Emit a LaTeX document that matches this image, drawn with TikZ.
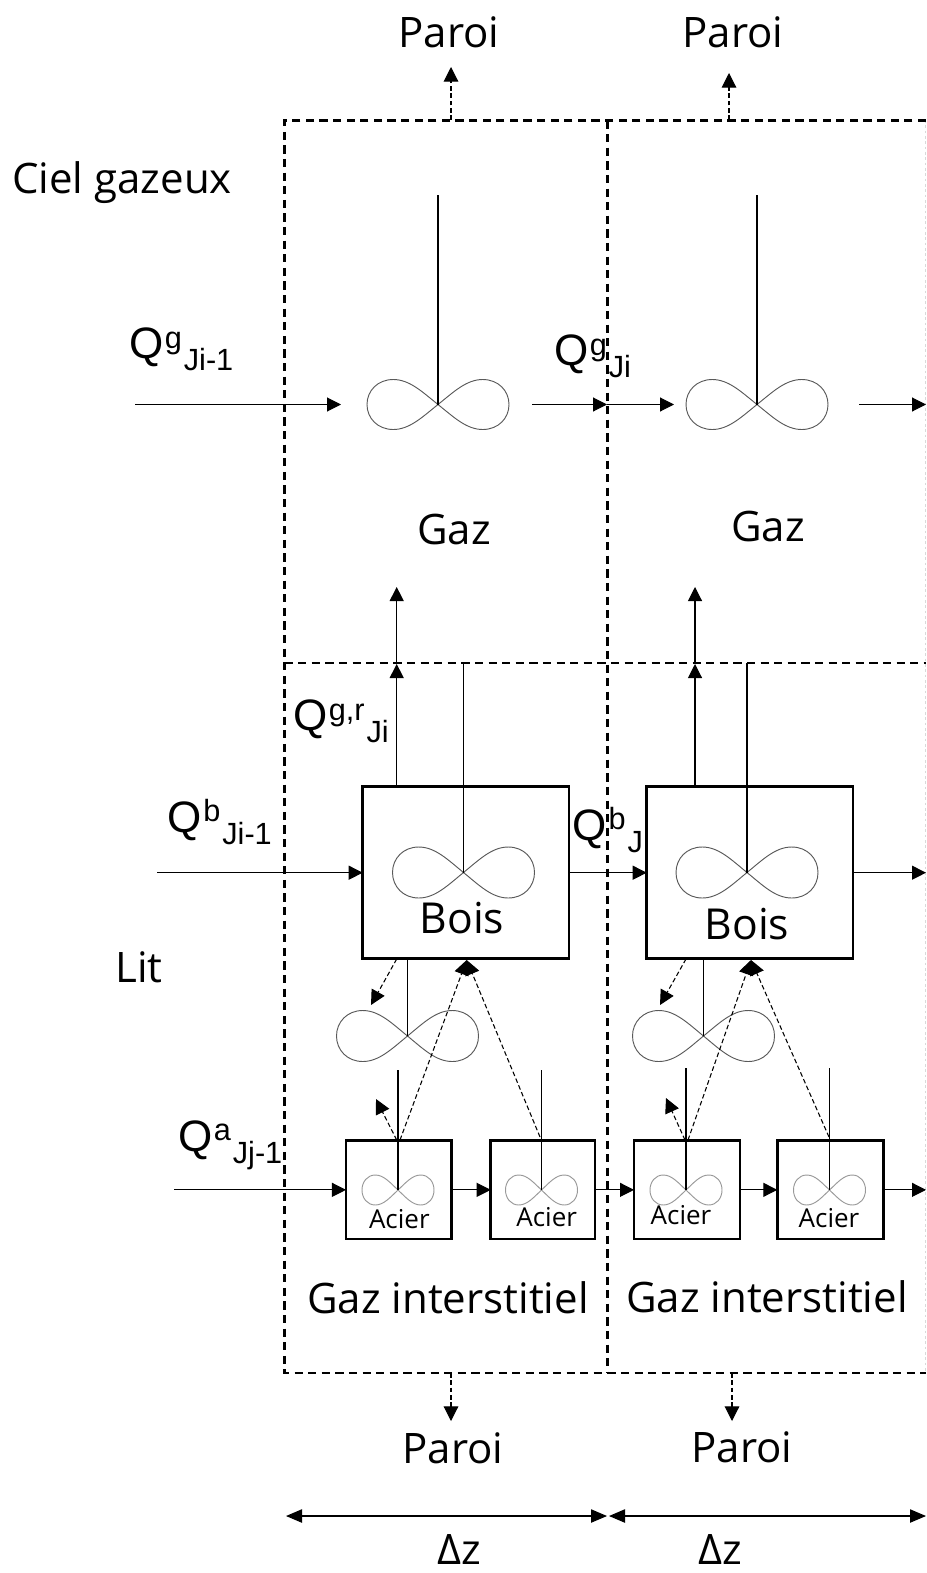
\documentclass[tikz,border=0pt]{standalone}
\usepackage{fontspec}
\setmainfont{Open Sans}
\newfontfamily\qfont{Liberation Sans}
\usetikzlibrary{arrows.meta}
\newcommand{\qlab}[6]{\node[anchor=base west,inner sep=0pt] (#1) at (#2,#3) {\qfont\fontsize{33}{36}\selectfont Q\hspace{1pt}\fontsize{23}{25}\selectfont\raisebox{#6pt}{#4}\hspace{1.5pt}\raisebox{-9pt}{#5}};}
\newcommand{\infloop}[5][black!65]{\draw[loopline,draw=#1,shift={(#2,#3)},xscale=#4,yscale=#5] (0,0) .. controls (0.22,-0.5) and (0.4,-1) .. (0.63,-1) .. controls (0.85,-1) and (1,-0.55) .. (1,0) .. controls (1,0.55) and (0.85,1) .. (0.63,1) .. controls (0.4,1) and (0.22,0.5) .. (0,0) .. controls (-0.22,-0.5) and (-0.4,-1) .. (-0.63,-1) .. controls (-0.85,-1) and (-1,-0.55) .. (-1,0) .. controls (-1,0.55) and (-0.85,1) .. (-0.63,1) .. controls (-0.4,1) and (-0.22,0.5) .. (0,0);}
\tikzset{
  bigdash/.style={line width=1.6pt,dash pattern=on 6.2pt off 4pt,black},
  flow/.style={line width=0.8pt,-{Triangle[length=10.5pt,width=10.5pt]}},
  stem/.style={line width=0.8pt},
  thindash/.style={line width=0.8pt,dash pattern=on 3.5pt off 2pt,-{Triangle[length=11pt,width=11pt]}},
  loopline/.style={line width=0.7pt},
  procbox/.style={draw,line width=1.9pt,fill=white,inner sep=0pt,outer sep=0pt},
  lab/.style={inner sep=0pt,font=\fontsize{31.5}{34}\selectfont},
  sml/.style={inner sep=0pt,font=\fontsize{19.5}{22}\selectfont},
  bois/.style={inner sep=0pt,font=\fontsize{32}{34}\selectfont},
}
\begin{document}
\begin{tikzpicture}[x=0.75pt,y=-0.75pt]
\useasboundingbox (0,0) rectangle (926,1573);
% dashed frames
\draw[line width=0.6pt,black!15,dash pattern=on 2pt off 2pt] (925,120) -- (925,1373);
\draw[bigdash] (926,120.5) -- (284.5,120.5) -- (284.5,1373) -- (926,1373);
\draw[bigdash] (284.5,663) -- (926,663);
\draw[bigdash] (607.5,120.5) -- (607.5,1373);
% boxes
\node[procbox,minimum width=154.7pt,minimum height=129pt] (b1) at (465.85,872.7) {};
\node[procbox,minimum width=154.7pt,minimum height=129pt] (b2) at (749.85,872.7) {};
\node[procbox,minimum width=79pt,minimum height=73.7pt] (a1) at (398.65,1189.85) {};
\node[procbox,minimum width=78.2pt,minimum height=73.7pt] (a2) at (542.85,1189.85) {};
\node[procbox,minimum width=79.5pt,minimum height=73.7pt] (a3) at (687,1189.85) {};
\node[procbox,minimum width=79.5pt,minimum height=73.7pt] (a4) at (830.3,1189.85) {};
% loops
\infloop{438}{404.5}{71}{25}
\infloop{757}{404.5}{71}{25}
\infloop{463.5}{872.5}{71}{25.5}
\infloop{747}{872.5}{71}{25.5}
\infloop{407.5}{1036}{71}{25.5}
\infloop{703.5}{1036}{71}{25.5}
\infloop[black!40]{398}{1190}{36}{15}
\infloop[black!40]{541.5}{1190}{36}{15}
\infloop[black!40]{686}{1190}{36}{15}
\infloop[black!40]{829.5}{1190}{36}{15}
% coordinates
\coordinate (g1) at (438,404.5); \coordinate (g1t) at (438,195);
\coordinate (g2) at (757,404.5); \coordinate (g2t) at (757,195);
\coordinate (lb1) at (463.5,872.5); \coordinate (lb1t) at (463.5,663);
\coordinate (lb2) at (747,872.5); \coordinate (lb2t) at (747,663);
\coordinate (lm1) at (407.5,1036); \coordinate (lm1b) at (407.5,959);
\coordinate (lm2) at (703.5,1036); \coordinate (lm2b) at (703.5,959);
\coordinate (s1) at (398,1190); \coordinate (s1t) at (398,1070);
\coordinate (s2) at (541.5,1190); \coordinate (s2t) at (541.5,1070);
\coordinate (s3) at (686,1190); \coordinate (s3t) at (686,1068);
\coordinate (s4) at (829.5,1190); \coordinate (s4t) at (829.5,1068);
% stems
\draw[stem] (g1t) -- (g1); \draw[stem] (g2t) -- (g2);
\draw[stem] (lb1t) -- (lb1); \draw[stem] (lb2t) -- (lb2);
\draw[stem] (lm1b) -- (lm1); \draw[stem] (lm2b) -- (lm2);
\draw[stem] (s1t) -- (s1); \draw[stem] (s2t) -- (s2);
\draw[stem] (s3t) -- (s3); \draw[stem] (s4t) -- (s4);
% gas arrows
\coordinate (ga0) at (135,404.5); \coordinate (ga1) at (341,404.5);
\coordinate (ga2) at (532,404.5); \coordinate (ga3) at (607,404.5);
\coordinate (ga4) at (674,404.5); \coordinate (ga5) at (859,404.5);
\coordinate (ga6) at (926,404.5);
\draw[flow] (ga0) -- (ga1); \draw[flow] (ga2) -- (ga3);
\draw[flow] (ga3) -- (ga4); \draw[flow] (ga5) -- (ga6);
% bois arrows
\coordinate (bi) at (157,872.7); \coordinate (bo) at (926,872.7);
\draw[flow] (bi) -- (b1); \draw[flow] (b1) -- (b2); \draw[flow] (b2) -- (bo);
% acier arrows
\coordinate (ai) at (174,1189.85); \coordinate (ao) at (926,1189.85);
\draw[flow] (ai) -- (a1); \draw[flow] (a1) -- (a2); \draw[flow] (a2) -- (a3);
\draw[flow] (a3) -- (a4); \draw[flow] (a4) -- (ao);
% up arrows
\coordinate (u1s) at (396.7,786.7); \coordinate (u1m) at (396.7,664); \coordinate (u1t) at (396.7,587);
\coordinate (u2s) at (695,786.7); \coordinate (u2m) at (695,664); \coordinate (u2t) at (695,587);
\draw[flow] (u1s) -- (u1m); \draw[flow] (u1m) -- (u1t);
\draw[flow] (u2s) -- (u2m); \draw[flow] (u2m) -- (u2t);
% dashed exchanges
\coordinate (d1a) at (396.7,959); \coordinate (d1b) at (371,1005);
\coordinate (d2a) at (396.7,1140); \coordinate (d2b) at (376,1099);
\coordinate (d3a) at (400,1140); \coordinate (d3b) at (466.7,960);
\coordinate (d4a) at (540,1137); \coordinate (d4b) at (466.7,960);
\coordinate (e1a) at (686,959); \coordinate (e1b) at (660,1005);
\coordinate (e2a) at (685,1140); \coordinate (e2b) at (666,1098);
\coordinate (e3a) at (688,1140); \coordinate (e3b) at (751,960);
\coordinate (e4a) at (829,1137); \coordinate (e4b) at (751,960);
\draw[thindash] (d1a) -- (d1b); \draw[thindash] (d2a) -- (d2b);
\draw[thindash] (d3a) -- (d3b); \draw[thindash] (d4a) -- (d4b);
\draw[thindash] (e1a) -- (e1b); \draw[thindash] (e2a) -- (e2b);
\draw[thindash] (e3a) -- (e3b); \draw[thindash] (e4a) -- (e4b);
% paroi
\node[lab] (p1) at (449,32) {Paroi};
\node[lab] (p2) at (733,32) {Paroi};
\node[lab] (p3) at (453,1448) {Paroi};
\node[lab] (p4) at (742,1447) {Paroi};
\coordinate (pa1) at (451,120); \coordinate (pa1t) at (451,67);
\coordinate (pa2) at (729,120); \coordinate (pa2t) at (729,73);
\coordinate (pa3) at (451,1373); \coordinate (pa3t) at (451,1421);
\coordinate (pa4) at (732,1373); \coordinate (pa4t) at (732,1421);
\draw[thindash] (pa1) -- (pa1t); \draw[thindash] (pa2) -- (pa2t);
\draw[thindash] (pa3) -- (pa3t); \draw[thindash] (pa4) -- (pa4t);
% delta z
\coordinate (dz0) at (286,1516); \coordinate (dz1) at (607,1516);
\coordinate (dz1b) at (609,1516); \coordinate (dz2) at (926,1516);
\draw[line width=0.8pt,{Triangle[length=12pt,width=10pt]}-{Triangle[length=12pt,width=10pt]}] (dz0) -- (dz1);
\draw[line width=0.8pt,{Triangle[length=12pt,width=10pt]}-{Triangle[length=12pt,width=10pt]}] (dz1b) -- (dz2);
\node[lab] (dzl1) at (459,1549) {Δz};
\node[lab] (dzl2) at (720,1549) {Δz};
% text
\node[lab,anchor=west] (ciel) at (12,183) {Ciel gazeux};
\node[lab,anchor=west] (lit) at (115,967) {Lit};
\node[lab] (gaz1) at (454,529) {Gaz};
\node[lab] (gaz2) at (768,526) {Gaz};
\node[lab] (gi1) at (448,1298) {Gaz interstitiel};
\node[lab] (gi2) at (767,1297) {Gaz interstitiel};
\node[bois] (tb1) at (462,918) {Bois};
\node[bois] (tb2) at (747,924) {Bois};
\node[sml] (ta1) at (399.3,1219) {Acier};
\node[sml] (ta2) at (546.7,1216.7) {Acier};
\node[sml] (ta3) at (681,1215) {Acier};
\node[sml] (ta4) at (829,1217.7) {Acier};
% Q labels
\qlab{q1}{129}{358}{g}{Ji-1}{7}
\qlab{q2}{554}{365}{g}{Ji}{7}
\qlab{q3}{293}{730}{g,r}{Ji}{7}
\qlab{q4}{167.5}{832}{b}{Ji-1}{8}
\qlab{q5}{572.7}{840}{b}{J}{8}
\qlab{q6}{178}{1151}{a}{Jj-1}{8}
\end{tikzpicture}
\end{document}
